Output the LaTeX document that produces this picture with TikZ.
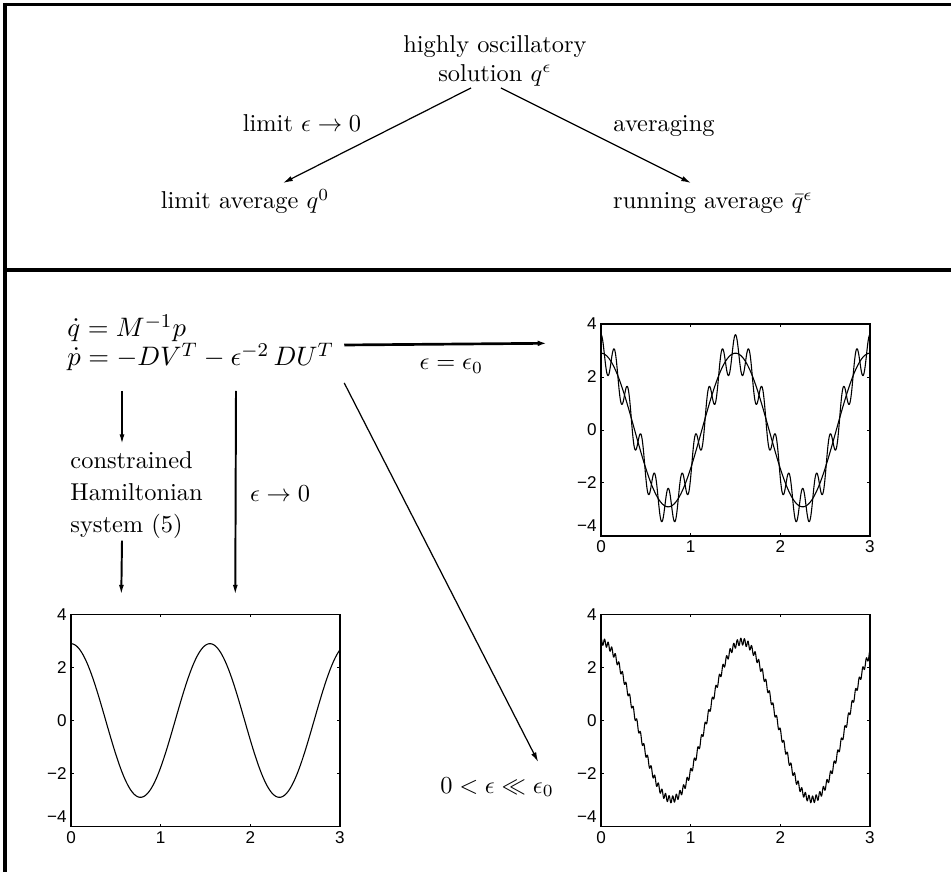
\documentclass[tikz,border=0pt]{standalone}
\usepackage{fontspec}
\newfontfamily\axisfont{Liberation Sans}
\usetikzlibrary{arrows.meta, calc}
\tikzset{lbl/.style={inner sep=0pt},line/.style={-{Latex[length=4pt,width=2.2pt]},line width=0.5pt},
  vline/.style={-{Latex[length=4.5pt,width=2pt]},line width=0.8pt},hline/.style={-{Latex[length=3.5pt,width=2.4pt]},line width=1.1pt},
  border/.style={line width=1.6pt},pframe/.style={draw,line width=0.6pt,inner sep=0pt,minimum width=3.8736cm,minimum height=3.0528cm},
  tick/.style={line width=0.4pt},xlab/.style={below,inner sep=1.8pt,font=\axisfont\fontsize{7}{8}\selectfont},
  ylab/.style={left,inner sep=1.6pt,font=\axisfont\fontsize{7}{8}\selectfont},curve/.style={line width=0.45pt,line join=round},
  eqn/.style={lbl,anchor=base west,font=\fontsize{11}{13}\selectfont}}
\newcommand{\plotbox}[4]{%
  \begin{scope}[shift={(#2,#3)},x=1.2912cm,y=0.3816cm]
    \node[pframe] (#1) at (1.5,0) {};
    \foreach \t in {0,1,2,3} {
      \draw[tick] (\t,-4) -- ++(0,0.11);
      \draw[tick] (\t,4) -- ++(0,-0.11);
      \node[xlab] at (\t,-4) {\t};
    }
    \foreach \v/\l in {-2/−2,0/0,2/2,4/4} {
      \draw[tick] (0,\v) -- ++(0.035,0);
      \draw[tick] (3,\v) -- ++(-0.035,0);
      \node[ylab] at (0,\v) {\l};
    }
    \node[ylab,anchor=south east] at (0,-4) {−4};
    #4
  \end{scope}}

\begin{document}
\begin{tikzpicture}[x=0.0144cm,y=-0.0144cm]
\useasboundingbox (0,0) rectangle (951,872);
% frame
\draw[border] (5,3) -- (5,872);
\draw[line width=1.2pt] (3,4.5) -- (951,4.5);
\draw[border] (5,270) -- (951,270);

% upper part
\node[lbl,align=center] (sol) at (495,61) {highly oscillatory\\ solution $q^\epsilon$};
\node[lbl,anchor=base] (lavg) at (245,209) {limit average $q^0$};
\node[lbl,anchor=base] (ravg) at (713,209) {running average $\bar q^\epsilon$};
\node[lbl,anchor=base] (lim) at (302,132) {limit $\epsilon\to 0$};
\node[lbl,anchor=base] (avg) at (664,132) {averaging};
\draw[line] ($(sol.south)+(-24,1)$) -- ($(lavg.base)+(38,-26)$);
\draw[line] ($(sol.south)+(6,1)$) -- ($(ravg.base)+(-22,-26)$);

% plots
\plotbox{pTR}{601}{430}{%
  \draw[curve] plot[domain=0:3,samples=200,smooth] (\x,{2.9*cos(240*\x)});
  \draw[curve] plot[domain=0:3,samples=600] (\x,{2.9*cos(240*\x)+0.7*cos(2400*\x)});}
\plotbox{pBL}{71}{720.5}{%
  \draw[curve] plot[domain=0:3,samples=200,smooth] (\x,{2.9*cos(232.3*\x)});}
\plotbox{pBR}{601}{720.5}{%
  \draw[curve] plot[domain=0:300,samples=901,variable=\t] ({\t/100},{2.98*cos(2.292*\t)+0.13*cos(90*mod(\t,4))});}

% lower part
\node[eqn] (eqa) at (67,337) {$\dot q = M^{-1}p$};
\node[eqn] (eqb) at (67,366) {$\dot p = -DV^T - \epsilon^{-2}\,DU^T$};
\node[lbl,anchor=west,align=left,font=\fontsize{10}{13}\selectfont] (cons) at (70,495) {constrained\\ Hamiltonian\\ system (5)};
\node[lbl,anchor=base] (small) at (497,793) {$0<\epsilon\ll\epsilon_0$};
\draw[hline] ($(eqb.base east)+(10,-21)$) -- ($(pTR.north west)+(-54,20)$)
  node[pos=0.53,below=5.7pt,lbl] {$\epsilon=\epsilon_0$};
\draw[vline] ($(eqb.base west)+(55,25)$) -- ($(cons.north west)+(52,-6)$);
\draw[vline] ($(cons.south west)+(52,2)$) -- ($(pBL.north west)+(51,-18)$);
\draw[vline] ($(eqb.base west)+(169,25)$) -- ($(pBL.north west)+(165,-18)$)
  node[midway,right,inner sep=5.5pt] {$\epsilon\to 0$};
\draw[line] ($(eqb.base east)+(10,17)$) -- ($(small.base east)+(-16,-31)$);
\end{tikzpicture}
\end{document}
